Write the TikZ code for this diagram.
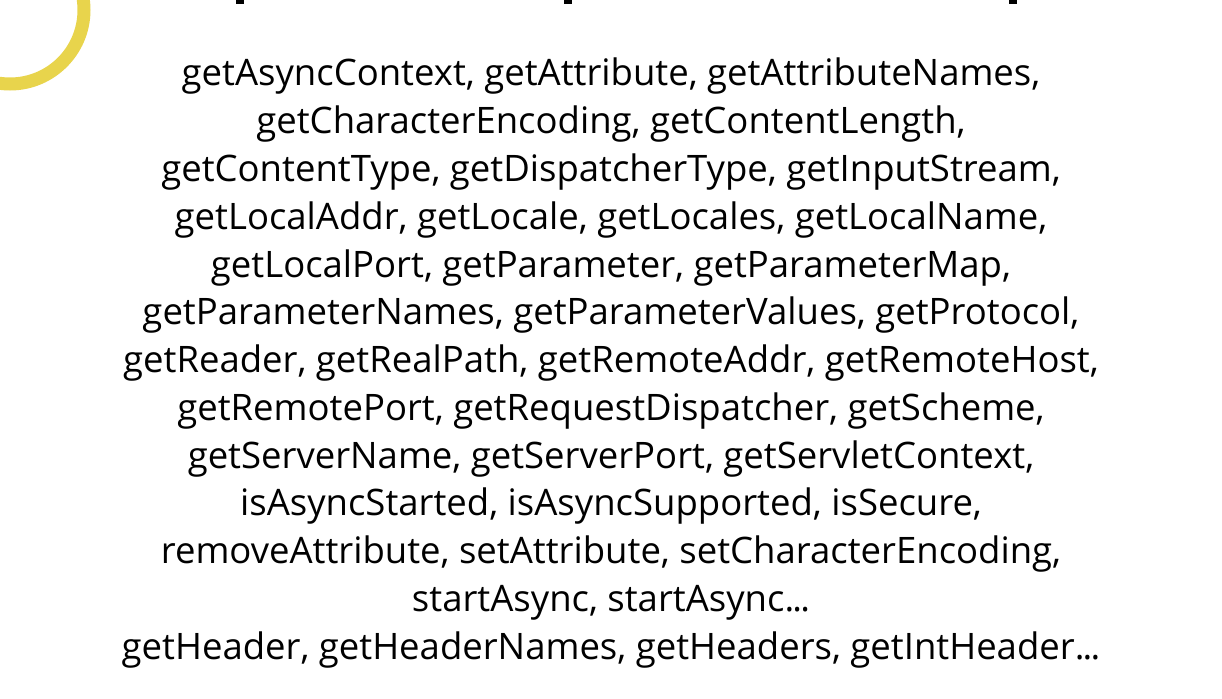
\documentclass[tikz,border=0pt]{standalone}
\usepackage{fontspec}
\setmainfont{Open Sans}
\usepackage{xcolor}
\definecolor{ringyellow}{RGB}{232,212,76}

\tikzset{
  methodline/.style={anchor=base, inner sep=0pt, font=\fontsize{36.5}{44}\selectfont},
  titlestub/.style={fill=black, draw=none}
}

\begin{document}
\begin{tikzpicture}[x=1pt,y=-1pt]
\useasboundingbox[fill=white] (0,0) rectangle (1222,698);
\clip (0,0) rectangle (1222,698);
% yellow ring in the corner
\draw[ringyellow, line width=13pt] (10,10) circle (74);
% bottoms of the clipped title
\foreach \sx in {240,568,1013}
  \fill[titlestub] (\sx-4,-2) rectangle (\sx+4,4);
% request methods, one node per line
\foreach \txt [count=\i] in {
  {getAsyncContext, getAttribute, getAttributeNames,},
  {getCharacterEncoding, getContentLength,},
  {getContentType, getDispatcherType, getInputStream,},
  {getLocalAddr, getLocale, getLocales, getLocalName,},
  {getLocalPort, getParameter, getParameterMap,},
  {getParameterNames, getParameterValues, getProtocol,},
  {getReader, getRealPath, getRemoteAddr, getRemoteHost,},
  {getRemotePort, getRequestDispatcher, getScheme,},
  {getServerName, getServerPort, getServletContext,},
  {isAsyncStarted, isAsyncSupported, isSecure,},
  {removeAttribute, setAttribute, setCharacterEncoding,},
  {startAsync, startAsync.\kern-.05em.\kern-.05em.},
  {getHeader, getHeaderNames, getHeaders, getIntHeader.\kern-.05em.\kern-.05em.}}
  \node[methodline] (line\i) at (611,{86+47.75*(\i-1)}) {\txt};
\end{tikzpicture}
\end{document}
